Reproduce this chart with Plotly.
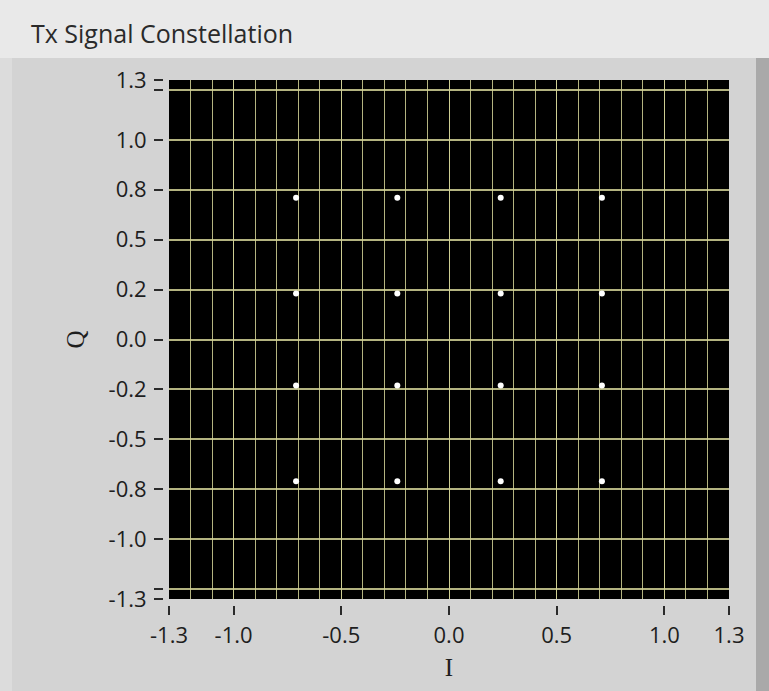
import plotly.graph_objects as go

# ---- data (16-QAM constellation) ----
i_values = [-0.71, -0.24, 0.24, 0.71,
            -0.71, -0.24, 0.24, 0.71,
            -0.71, -0.24, 0.24, 0.71,
            -0.71, -0.24, 0.24, 0.71]
q_values = [0.71, 0.71, 0.71, 0.71,
            0.23, 0.23, 0.23, 0.23,
            -0.23, -0.23, -0.23, -0.23,
            -0.71, -0.71, -0.71, -0.71]

x_tickvals = [-1.3, -1.0, -0.5, 0.0, 0.5, 1.0, 1.3]
x_ticktext = ["-1.3", "-1.0", "-0.5", "0.0", "0.5", "1.0", "1.3"]
y_tickvals = [-1.3, -1.25, -1.0, -0.75, -0.5, -0.25, 0.0, 0.25, 0.5, 0.75, 1.0, 1.25, 1.3]
y_ticktext = ["-1.3", "", "-1.0", "-0.8", "-0.5", "-0.2", "0.0", "0.2", "0.5", "0.8", "1.0", "", "1.3"]

title_text = "Tx Signal Constellation"
x_title = "I"
y_title = "Q"

# ---- layout geometry (pixels) ----
W, H = 769, 691
ML, MR, MT, MB = 163, 40, 80, 86
PW, PH = W - ML - MR, H - MT - MB
GAP = 6

def px_x(p):
    return (p - ML) / PW

def px_y(p):
    return (H - MB - p) / PH

grid_col = "rgba(210,210,150,0.85)"
tick_font = dict(family="Open Sans, Noto Sans, sans-serif", size=22, color="#1e1e1e")
serif_font = dict(family="Liberation Serif, serif", size=25, color="#1e1e1e")

fig = go.Figure()
fig.add_trace(go.Scatter(
    x=i_values, y=q_values, mode="markers",
    marker=dict(symbol="circle", size=6, color="#ffffff", line=dict(width=0)),
    hoverinfo="x+y", showlegend=False,
))

fig.update_layout(
    width=W, height=H,
    margin=dict(l=ML, r=MR, t=MT, b=MB, pad=0),
    paper_bgcolor="#d3d3d3",
    plot_bgcolor="#000000",
    showlegend=False,
    xaxis=dict(
        domain=[GAP / PW, 1], range=[-1.3, 1.3], anchor="free", position=0,
        tickmode="array", tickvals=x_tickvals, ticktext=x_ticktext,
        ticks="outside", ticklen=9, tickwidth=1.5, tickcolor="#2a2a2a",
        ticklabelstandoff=2,
        tickfont=tick_font, showgrid=True, gridcolor=grid_col, gridwidth=1.4,
        minor=dict(tick0=0, dtick=0.1, showgrid=True, gridcolor=grid_col,
                   gridwidth=1.4, ticks=""),
        zeroline=False, showline=False, fixedrange=True,
        title=dict(text=x_title, standoff=10, font=serif_font),
    ),
    yaxis=dict(
        domain=[GAP / PH, 1], range=[-1.3, 1.3], anchor="free", position=0,
        tickmode="array", tickvals=y_tickvals, ticktext=y_ticktext,
        ticks="outside", ticklen=9, tickwidth=1.5, tickcolor="#2a2a2a",
        ticklabelstandoff=3,
        tickfont=tick_font, showgrid=True, gridcolor=grid_col, gridwidth=1.6,
        zeroline=False, showline=False, fixedrange=True,
        title=dict(text=y_title, standoff=15, font=serif_font),
    ),
    shapes=[
        # top title band
        dict(type="rect", xref="paper", yref="paper", layer="below",
             x0=px_x(0), x1=px_x(W), y0=px_y(58), y1=px_y(0),
             fillcolor="#e9e9e9", line=dict(width=0)),
        # left thin strip
        dict(type="rect", xref="paper", yref="paper", layer="below",
             x0=px_x(0), x1=px_x(12), y0=px_y(H), y1=px_y(58),
             fillcolor="#dcdcdc", line=dict(width=0)),
        # right shadow strip
        dict(type="rect", xref="paper", yref="paper", layer="below",
             x0=px_x(756), x1=px_x(W), y0=px_y(H), y1=px_y(58),
             fillcolor="#a9a9a9", line=dict(width=0)),
    ],
    annotations=[
        dict(text=title_text, xref="paper", yref="paper",
             x=px_x(29), y=px_y(33), xanchor="left", yanchor="middle",
             showarrow=False,
             font=dict(family="Open Sans, Noto Sans, sans-serif", size=25, color="#2a2a2a")),
    ],
)

fig.write_html(
    "out.html",
    config={"displayModeBar": False},
    post_script="document.body.style.margin='0';document.body.style.overflow='hidden';",
)
